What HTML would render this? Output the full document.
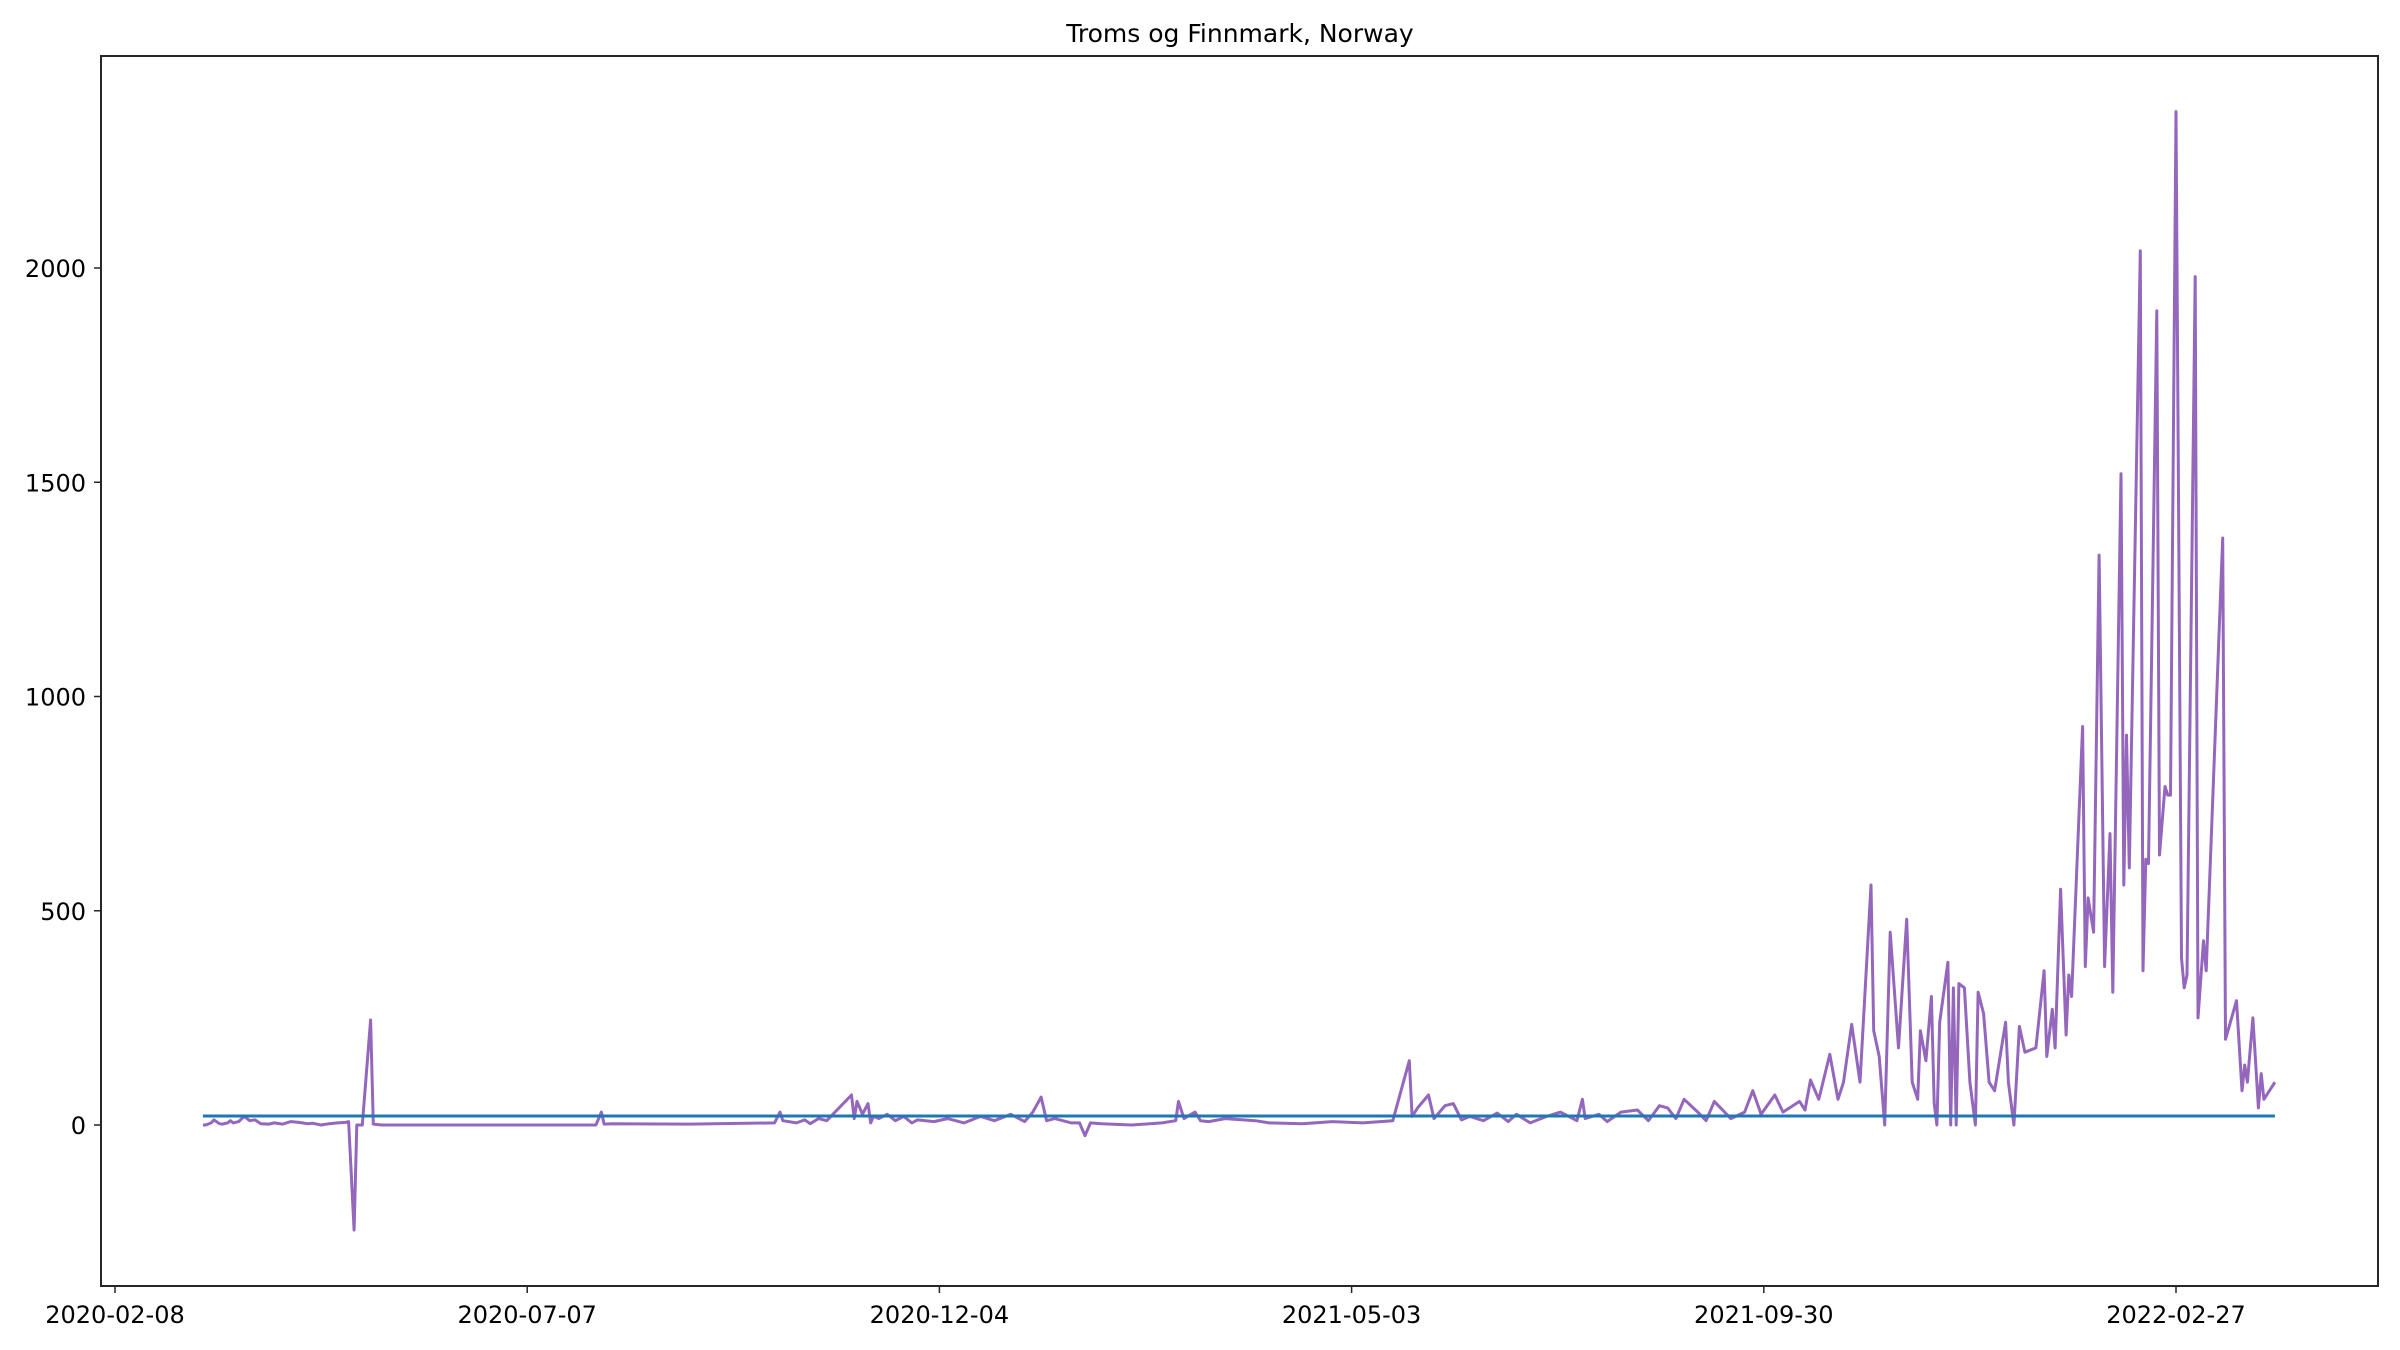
<!DOCTYPE html>
<html><head><meta charset="utf-8"><style>
html,body{margin:0;padding:0;background:#fff;}
svg{display:block;font-family:"DejaVu Sans","Liberation Sans",sans-serif;}
</style></head><body>
<svg id="chart" width="2400" height="1350" viewBox="0 0 2400 1350" xmlns="http://www.w3.org/2000/svg">
<rect width="2400" height="1350" fill="#fff"/>
<text x="1240" y="42" font-size="25" text-anchor="middle">Troms og Finnmark, Norway</text>
<g id="grid"></g>
<g id="series"></g>
<rect x="101" y="56" width="2277" height="1230" fill="none" stroke="#262626" stroke-width="2"/>
</svg>
<script>
// days since 2020-02-08
const tickDays = [0,150,300,450,600,750];
const tickLabels = ["2020-02-08","2020-07-07","2020-12-04","2021-05-03","2021-09-30","2022-02-27"];
const yTicks = [0,500,1000,1500,2000];
const days = [32,33,35,36,38,39,41,42,43,45,47,49,51,53,56,58,61,64,67,70,72,75,78,81,84,85,87,88,90,93,94,97,125,153,175,177,178,181,209,240,242,243,248,251,253,256,259,268,269,270,272,274,275,276,278,281,284,287,290,292,298,303,309,315,320,326,331,334,337,339,342,348,351,353,355,359,370,381,386,387,389,393,395,398,404,415,420,432,443,454,465,471,472,474,478,480,484,487,490,493,498,503,507,510,515,521,526,532,534,535,540,543,548,554,558,562,565,568,571,576,579,582,588,593,596,599,604,607,613,615,617,620,624,627,629,632,635,639,640,642,644,646,649,652,654,656,657,659,661,662,663,664,667,668,669,670,671,673,675,677,678,680,682,684,688,689,691,693,695,699,702,703,705,706,708,710,711,712,716,717,718,720,722,724,726,727,730,731,732,733,737,738,739,740,743,744,746,747,748,750,752,753,754,757,758,760,761,767,768,772,774,775,776,778,780,781,782,786];
const cases = [0,0,5,12,3,2,5,10,5,8,20,10,12,3,2,5,2,8,6,3,4,0,3,5,6,8,-245,0,0,245,2,0,0,0,0,30,2,3,2,5,30,10,5,12,3,15,10,70,15,55,25,50,5,20,15,25,10,20,5,12,8,15,5,20,10,25,8,30,65,10,15,5,5,-25,5,3,0,5,10,55,15,30,10,8,15,10,5,3,8,5,10,150,20,40,70,15,45,50,12,20,10,28,8,25,5,20,30,10,60,15,25,8,30,35,10,45,40,15,60,30,10,55,15,30,80,25,70,30,55,35,105,60,165,60,100,235,100,560,220,160,0,450,180,480,100,60,220,150,300,50,0,240,380,0,320,0,330,320,100,0,310,260,100,80,240,100,0,230,170,180,360,160,270,180,550,210,350,300,930,370,530,450,1330,370,680,310,1520,560,910,600,2040,360,620,610,1900,630,790,770,770,2365,390,320,350,1980,250,430,360,1370,200,290,80,140,100,250,40,120,60,100];
const baselineDays = [32,786];
const baselineValues = [21,21];

const X0=115, PXD=(2176-115)/750, Y0=1125, PXV=(1125-268)/2000;
const xs = d => X0 + d*PXD;
const ys = v => Y0 - v*PXV;
const NS="http://www.w3.org/2000/svg";
const grid=document.getElementById('grid'), ser=document.getElementById('series');
function mk(tag,attrs,parent){const e=document.createElementNS(NS,tag);for(const k in attrs)e.setAttribute(k,attrs[k]);parent.appendChild(e);return e;}
tickDays.forEach((d,i)=>{
  const x=xs(d);
  const t=mk('line',{x1:x,x2:x,y1:1286,y2:1293,stroke:'#262626','stroke-width':1.5},grid);
  
  
  const l=mk('text',{x:x,y:1323,'font-size':24,'text-anchor':'middle'},grid);
  l.textContent=tickLabels[i];
  
  
});
yTicks.forEach(v=>{
  const y=ys(v);
  const t=mk('line',{x1:94,x2:101,y1:y,y2:y,stroke:'#262626','stroke-width':1.5},grid);
  
  
  const l=mk('text',{x:86,y:y+9,'font-size':24,'text-anchor':'end'},grid);
  l.textContent=String(v);
  
  
});
const pts=days.map((d,i)=>xs(d).toFixed(1)+','+ys(cases[i]).toFixed(1)).join(' ');
const p=mk('polyline',{points:pts,fill:'none',stroke:'#9467bd','stroke-width':3,'stroke-linejoin':'round'},ser);


const bpts=baselineDays.map((d,i)=>xs(d).toFixed(1)+','+ys(baselineValues[i]).toFixed(1)).join(' ');
const b=mk('polyline',{points:bpts,fill:'none',stroke:'#1f77b4','stroke-width':3},ser);


</script>
</body></html>
